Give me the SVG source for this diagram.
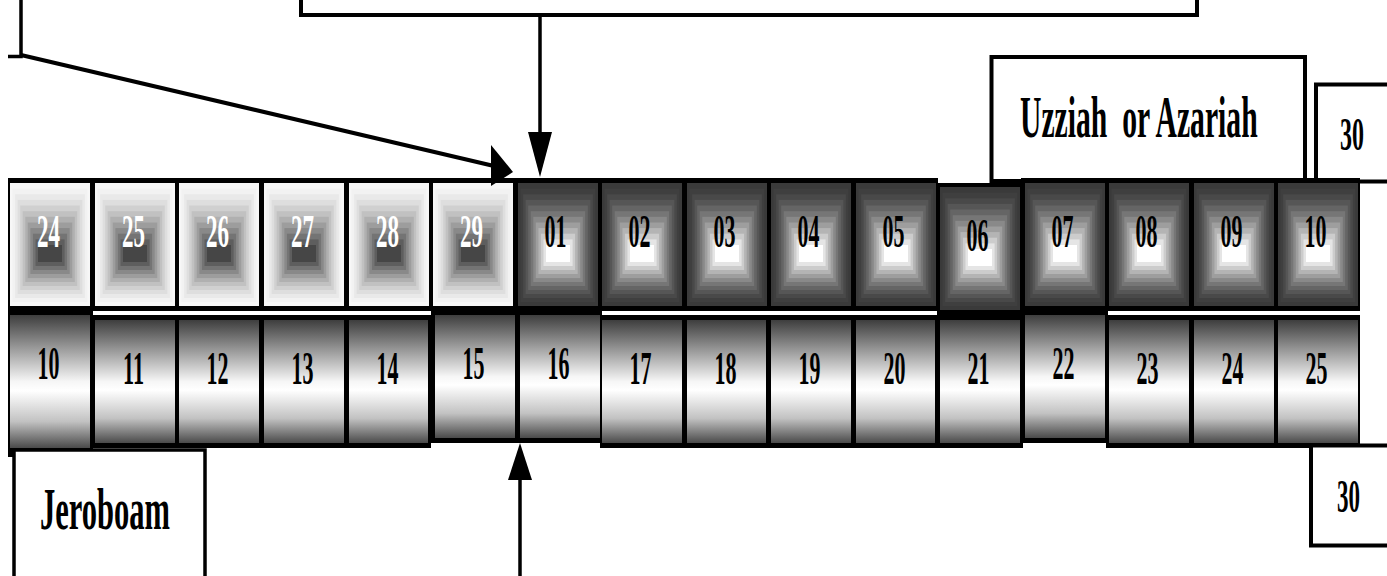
<svg xmlns="http://www.w3.org/2000/svg" xmlns:xlink="http://www.w3.org/1999/xlink" width="1387" height="576" viewBox="0 0 1387 576">
<style>
.frame{fill:#000}
.box{fill:#fff;stroke:#000;stroke-width:4}
.line{fill:none;stroke:#000;stroke-width:3.5}
.head{fill:#000}
.num{font-family:"Liberation Serif","Times New Roman",serif;font-size:47px;font-weight:bold;text-anchor:middle;fill:#000}
.wn{fill:#fff}
.lbl{font-family:"Liberation Serif","Times New Roman",serif;font-size:60px;font-weight:bold;fill:#000}
.cyl{fill:url(#cylG)}
</style>
<defs>
<linearGradient id="cylG" x1="0" y1="0" x2="0" y2="1">
<stop offset="0" stop-color="#3e3e3e"/>
<stop offset="0.25" stop-color="#9a9a9a"/>
<stop offset="0.5" stop-color="#f6f6f6"/>
<stop offset="0.57" stop-color="#ffffff"/>
<stop offset="0.8" stop-color="#c2c2c2"/>
<stop offset="1" stop-color="#4a4a4a"/>
</linearGradient>
<g id="pd">
<rect x="0" y="0" width="80" height="123" fill="#3a3a3a"/>
<rect x="2.5" y="5.6" width="74.9" height="113.4" fill="#3f3f3f"/>
<rect x="5.1" y="11.3" width="69.8" height="103.7" fill="#494949"/>
<rect x="7.6" y="16.9" width="64.7" height="94.1" fill="#565656"/>
<rect x="10.2" y="22.5" width="59.6" height="84.5" fill="#656565"/>
<rect x="12.7" y="28.2" width="54.5" height="74.8" fill="#767676"/>
<rect x="15.3" y="33.8" width="49.5" height="65.2" fill="#898989"/>
<rect x="17.8" y="39.5" width="44.4" height="55.6" fill="#9e9e9e"/>
<rect x="20.4" y="45.1" width="39.3" height="45.9" fill="#b4b4b4"/>
<rect x="22.9" y="50.7" width="34.2" height="36.3" fill="#cccccc"/>
<rect x="25.5" y="56.4" width="29.1" height="26.6" fill="#e5e5e5"/>
<rect x="28" y="62" width="24" height="17" fill="#ffffff"/>
</g>
<g id="pl">
<rect x="0" y="0" width="80" height="123" fill="#f7f7f7"/>
<rect x="2.5" y="5.6" width="74.9" height="113.4" fill="#f2f2f2"/>
<rect x="5.1" y="11.3" width="69.8" height="103.7" fill="#e9e9e9"/>
<rect x="7.6" y="16.9" width="64.7" height="94.1" fill="#dedede"/>
<rect x="10.2" y="22.5" width="59.6" height="84.5" fill="#d0d0d0"/>
<rect x="12.7" y="28.2" width="54.5" height="74.8" fill="#c1c1c1"/>
<rect x="15.3" y="33.8" width="49.5" height="65.2" fill="#b0b0b0"/>
<rect x="17.8" y="39.5" width="44.4" height="55.6" fill="#9d9d9d"/>
<rect x="20.4" y="45.1" width="39.3" height="45.9" fill="#898989"/>
<rect x="22.9" y="50.7" width="34.2" height="36.3" fill="#747474"/>
<rect x="25.5" y="56.4" width="29.1" height="26.6" fill="#5e5e5e"/>
<rect x="28" y="62" width="24" height="17" fill="#464646"/>
</g>
</defs>
<rect x="0" y="0" width="1387" height="576" fill="#fff"/>

<g id="box-top"><rect class="box" x="301" y="-20" width="896" height="35"/></g>
<g id="box-topleft"><polyline class="line" points="8,56.5 21,56.5 21,0"/></g>
<g id="box-uzziah">
<rect class="box" x="991.5" y="57" width="313.5" height="124"/>
<text class="lbl" transform="translate(1020,136.5) scale(0.49,1)" x="0" y="0" textLength="485" lengthAdjust="spacingAndGlyphs" xml:space="preserve">Uzziah  or Azariah</text>
</g>
<g id="box-30-top">
<rect class="box" x="1316" y="84.5" width="100" height="97"/>
<text class="num" transform="translate(1352,150) scale(0.51,1)" x="0" y="0" textLength="47" lengthAdjust="spacingAndGlyphs">30</text>
</g>

<g id="frames">
<rect class="frame" x="8" y="178" width="930" height="133"/>
<rect class="frame" x="937" y="183" width="86" height="132"/>
<rect class="frame" x="1021" y="178" width="339" height="133"/>
<rect class="frame" x="8" y="308" width="85" height="149"/>
<rect class="frame" x="93" y="315" width="338" height="133"/>
<rect class="frame" x="431" y="308" width="171" height="135"/>
<rect class="frame" x="600" y="315" width="423" height="133"/>
<rect class="frame" x="1021" y="308" width="87" height="135"/>
<rect class="frame" x="1106" y="315" width="254" height="133"/>
</g>

<g id="c1-24"><use xlink:href="#pl" x="10" y="183"/><text class="num wn" x="48.5" y="247" textLength="23" lengthAdjust="spacingAndGlyphs">24</text></g>
<g id="c1-25"><use xlink:href="#pl" x="95" y="183"/><text class="num wn" x="133.5" y="247" textLength="23" lengthAdjust="spacingAndGlyphs">25</text></g>
<g id="c1-26"><use xlink:href="#pl" x="179" y="183"/><text class="num wn" x="217.5" y="247" textLength="23" lengthAdjust="spacingAndGlyphs">26</text></g>
<g id="c1-27"><use xlink:href="#pl" x="264" y="183"/><text class="num wn" x="302.5" y="247" textLength="23" lengthAdjust="spacingAndGlyphs">27</text></g>
<g id="c1-28"><use xlink:href="#pl" x="349" y="183"/><text class="num wn" x="387.5" y="247" textLength="23" lengthAdjust="spacingAndGlyphs">28</text></g>
<g id="c1-29"><use xlink:href="#pl" x="433" y="183"/><text class="num wn" x="471.5" y="247" textLength="23" lengthAdjust="spacingAndGlyphs">29</text></g>
<g id="c1-01"><use xlink:href="#pd" x="518" y="183"/><text class="num" x="555.5" y="247" textLength="22" lengthAdjust="spacingAndGlyphs">01</text></g>
<g id="c1-02"><use xlink:href="#pd" x="602" y="183"/><text class="num" x="639.5" y="247" textLength="22" lengthAdjust="spacingAndGlyphs">02</text></g>
<g id="c1-03"><use xlink:href="#pd" x="687" y="183"/><text class="num" x="724.5" y="247" textLength="22" lengthAdjust="spacingAndGlyphs">03</text></g>
<g id="c1-04"><use xlink:href="#pd" x="771" y="183"/><text class="num" x="808.5" y="247" textLength="22" lengthAdjust="spacingAndGlyphs">04</text></g>
<g id="c1-05"><use xlink:href="#pd" x="856" y="183"/><text class="num" x="893.5" y="247" textLength="22" lengthAdjust="spacingAndGlyphs">05</text></g>
<g id="c1-06"><use xlink:href="#pd" x="940" y="187"/><text class="num" x="977.5" y="251" textLength="22" lengthAdjust="spacingAndGlyphs">06</text></g>
<g id="c1-07"><use xlink:href="#pd" x="1025" y="183"/><text class="num" x="1062.5" y="247" textLength="22" lengthAdjust="spacingAndGlyphs">07</text></g>
<g id="c1-08"><use xlink:href="#pd" x="1109" y="183"/><text class="num" x="1146.5" y="247" textLength="22" lengthAdjust="spacingAndGlyphs">08</text></g>
<g id="c1-09"><use xlink:href="#pd" x="1194" y="183"/><text class="num" x="1231.5" y="247" textLength="22" lengthAdjust="spacingAndGlyphs">09</text></g>
<g id="c1-10"><use xlink:href="#pd" x="1278" y="183"/><text class="num" x="1315.5" y="247" textLength="22" lengthAdjust="spacingAndGlyphs">10</text></g>

<g id="c2-10"><rect class="cyl" x="10" y="315" width="80" height="133"/><text class="num" x="48.5" y="379" textLength="22" lengthAdjust="spacingAndGlyphs">10</text></g>
<g id="c2-11"><rect class="cyl" x="95" y="320" width="80" height="123"/><text class="num" x="133.5" y="383.5" textLength="21" lengthAdjust="spacingAndGlyphs">11</text></g>
<g id="c2-12"><rect class="cyl" x="179" y="320" width="80" height="123"/><text class="num" x="217.5" y="383.5" textLength="22" lengthAdjust="spacingAndGlyphs">12</text></g>
<g id="c2-13"><rect class="cyl" x="264" y="320" width="80" height="123"/><text class="num" x="302.5" y="383.5" textLength="22" lengthAdjust="spacingAndGlyphs">13</text></g>
<g id="c2-14"><rect class="cyl" x="349" y="320" width="79" height="123"/><text class="num" x="387.5" y="383.5" textLength="22" lengthAdjust="spacingAndGlyphs">14</text></g>
<g id="c2-15"><rect class="cyl" x="435" y="315" width="80" height="123"/><text class="num" x="473.5" y="379" textLength="22" lengthAdjust="spacingAndGlyphs">15</text></g>
<g id="c2-16"><rect class="cyl" x="520" y="315" width="80" height="123"/><text class="num" x="558.5" y="379" textLength="22" lengthAdjust="spacingAndGlyphs">16</text></g>
<g id="c2-17"><rect class="cyl" x="602" y="320" width="80" height="123"/><text class="num" x="640.5" y="383.5" textLength="22" lengthAdjust="spacingAndGlyphs">17</text></g>
<g id="c2-18"><rect class="cyl" x="687" y="320" width="79" height="123"/><text class="num" x="725.5" y="383.5" textLength="22" lengthAdjust="spacingAndGlyphs">18</text></g>
<g id="c2-19"><rect class="cyl" x="771" y="320" width="80" height="123"/><text class="num" x="809.5" y="383.5" textLength="22" lengthAdjust="spacingAndGlyphs">19</text></g>
<g id="c2-20"><rect class="cyl" x="856" y="320" width="79" height="123"/><text class="num" x="894.5" y="383.5" textLength="22" lengthAdjust="spacingAndGlyphs">20</text></g>
<g id="c2-21"><rect class="cyl" x="940" y="320" width="80" height="123"/><text class="num" x="978.5" y="383.5" textLength="22" lengthAdjust="spacingAndGlyphs">21</text></g>
<g id="c2-22"><rect class="cyl" x="1025" y="315" width="80" height="123"/><text class="num" x="1063.5" y="379" textLength="22" lengthAdjust="spacingAndGlyphs">22</text></g>
<g id="c2-23"><rect class="cyl" x="1109" y="320" width="80" height="123"/><text class="num" x="1147.5" y="383.5" textLength="22" lengthAdjust="spacingAndGlyphs">23</text></g>
<g id="c2-24"><rect class="cyl" x="1194" y="320" width="80" height="123"/><text class="num" x="1232.5" y="383.5" textLength="22" lengthAdjust="spacingAndGlyphs">24</text></g>
<g id="c2-25"><rect class="cyl" x="1278" y="320" width="80" height="123"/><text class="num" x="1316.5" y="383.5" textLength="22" lengthAdjust="spacingAndGlyphs">25</text></g>

<g id="box-jeroboam">
<rect class="box" x="14" y="450" width="191" height="200" style="stroke-width:3.5"/>
<text class="lbl" transform="translate(40,529) scale(0.506,1)" x="0" y="0" textLength="257" lengthAdjust="spacingAndGlyphs">Jeroboam</text>
</g>
<g id="box-30-bottom">
<rect class="box" x="1311" y="445.5" width="100" height="100"/>
<text class="num" transform="translate(1348.5,512) scale(0.49,1)" x="0" y="0" textLength="47" lengthAdjust="spacingAndGlyphs">30</text>
</g>

<g id="connectors">
<line class="line" x1="21" y1="55" x2="494" y2="166" style="stroke-width:4"/>
<polygon class="head" points="491,145 513,172 491,186"/>
<line class="line" x1="540" y1="15" x2="540" y2="135"/>
<polygon class="head" points="528,132 552,132 540,177"/>
<line class="line" x1="520" y1="478" x2="520" y2="576"/>
<polygon class="head" points="508,480 532,480 520,443"/>
</g>
</svg>
